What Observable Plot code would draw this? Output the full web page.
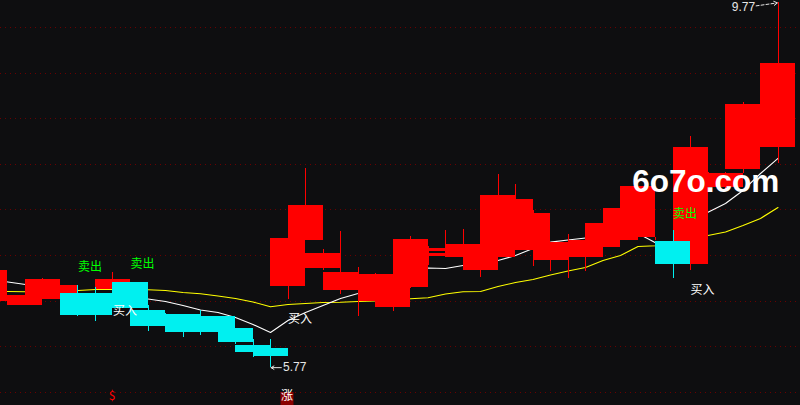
<!DOCTYPE html>
<html><head><meta charset="utf-8">
<script src="https://cdn.jsdelivr.net/npm/d3@7"></script>
<script src="https://cdn.jsdelivr.net/npm/@observablehq/plot@0.6"></script>
<style>html,body{margin:0;padding:0;background:#0e0e10;overflow:hidden}</style>
</head><body><div id="chart"></div>
<script>
// candle index (day number)
const idx = d3.range(-1, 45);
const open  = [6.54,6.49,6.45,6.52,6.57,6.58,6.58,6.63,6.70,6.40,6.35,6.35,6.33,6.33,6.20,6.01,5.98,6.66,7.16,6.86,6.62,6.63,6.49,6.43,6.65,7.04,6.99,6.98,6.83,6.98,7.06,7.06,6.95,6.98,6.98,7.09,7.16,7.20,7.20,7.15,6.90,7.76,7.74,7.94,8.21,8.18];
const high  = [6.85,6.56,6.56,6.75,6.67,6.67,6.65,6.81,6.70,6.45,6.36,6.35,6.40,6.33,6.20,6.08,6.08,7.21,7.95,7.07,7.26,6.87,6.80,6.70,7.21,7.10,7.27,7.29,6.98,7.89,7.78,7.49,7.14,7.23,7.17,7.36,7.66,7.76,7.20,7.27,8.30,7.91,7.91,8.68,8.66,9.77];
const low   = [6.52,6.48,6.45,6.52,6.57,6.33,6.28,6.60,6.40,6.17,6.21,6.10,6.12,6.18,6.02,5.88,5.77,6.52,7.16,6.84,6.57,6.33,6.48,6.39,6.64,6.89,6.98,6.98,6.76,6.98,7.05,6.88,6.82,6.75,6.82,7.09,7.16,7.20,7.16,6.75,6.83,7.75,7.70,7.90,8.20,8.01];
const close = [6.83,6.55,6.56,6.74,6.67,6.34,6.34,6.74,6.42,6.22,6.22,6.15,6.15,6.18,6.05,5.94,5.89,7.19,7.55,7.02,6.81,6.77,6.79,6.69,7.18,7.08,7.02,7.12,6.98,7.66,7.61,7.46,7.13,7.14,7.16,7.35,7.52,7.76,7.20,6.90,8.18,7.90,7.90,8.66,8.65,9.11];
// moving averages (white short, yellow long)
const maShort = [6.737,6.709,6.682,6.616,6.583,6.561,6.550,6.539,6.529,6.523,6.496,6.452,6.402,6.375,6.320,6.243,6.156,6.287,6.375,6.452,6.529,6.583,6.671,6.759,6.836,6.863,6.857,6.890,6.912,6.945,7.000,7.077,7.146,7.170,7.192,7.208,7.230,7.241,7.140,7.100,7.362,7.475,7.570,7.713,7.899,8.064];
const maLong  = [6.611,6.605,6.602,6.605,6.611,6.616,6.627,6.627,6.627,6.624,6.616,6.594,6.580,6.556,6.529,6.490,6.437,6.463,6.474,6.485,6.488,6.496,6.501,6.512,6.525,6.536,6.578,6.602,6.605,6.660,6.704,6.737,6.786,6.830,6.868,6.945,7.000,7.099,7.106,7.154,7.192,7.219,7.258,7.329,7.406,7.526];
// price grid
const gridPrices = [5.5,6,6.5,7,7.5,8,8.5,9,9.5];
// signals
const sellIdx = [4,7,38];
const sellPrice = [6.874,6.901,7.450];
const buyIdx = [6,16,39];
const buyPrice = [6.386,6.304,6.622];
const iconIdx = [6,16];
const iconText = ["$","涨"];
const watermarkText = "6o7o.com";
const watermarkAt = {i: 35.67, p: 7.803};

const candles = idx.map((i,k)=>({i, open:open[k], high:high[k], low:low[k], close:close[k]}));
const up = candles.filter(d=>d.close>=d.open);
const down = candles.filter(d=>d.close<d.open);
const maRows = idx.map((i,k)=>({i, s:maShort[k], l:maLong[k]}));
const sells = sellIdx.map((i,k)=>({i, p:sellPrice[k]}));
const buys = buyIdx.map((i,k)=>({i, p:buyPrice[k]}));
const icons = iconIdx.map((i,k)=>({i, t:iconText[k]}));
const hiC = candles.reduce((a,b)=>b.high>a.high?b:a);
const loC = candles.reduce((a,b)=>b.low<a.low?b:a);
const hi = {i:hiC.i, p:hiC.high};
const lo = {i:loC.i, p:loC.low};
const fmt = d3.format(".2f");

const RED = "#ff0000", CYAN = "#00f0f0";
const CJK = "'Noto Sans CJK SC', sans-serif";

const chart = Plot.plot({
  width: 800, height: 405,
  marginTop: 0, marginRight: 0, marginBottom: 0, marginLeft: 0,
  x: {type: "linear", domain: [-0.428571, 45.285714], axis: null},
  y: {type: "linear", domain: [5.355, 9.796], axis: null},
  style: {background: "#0e0e10"},
  marks: [
    Plot.ruleY(gridPrices, {stroke: "#6a0000", strokeDasharray: "1,4", strokeWidth: 1, shapeRendering: "crispEdges"}),
    Plot.line(maRows, {x: "i", y: "l", stroke: "#ffff00", strokeWidth: 1.1}),
    Plot.line(maRows, {x: "i", y: "s", stroke: "#ffffff", strokeWidth: 1.1}),
    Plot.ruleX(up, {x: "i", y1: "low", y2: "high", stroke: RED, strokeWidth: 1, shapeRendering: "crispEdges"}),
    Plot.rect(up, {x1: d=>d.i-1, x2: d=>d.i+1, y1: "open", y2: "close", fill: RED, shapeRendering: "crispEdges"}),
    Plot.ruleX(down, {x: "i", y1: "low", y2: "high", stroke: CYAN, strokeWidth: 1, shapeRendering: "crispEdges"}),
    Plot.rect(down, {x1: d=>d.i-1, x2: d=>d.i+1, y1: "open", y2: "close", fill: CYAN, shapeRendering: "crispEdges"}),
    Plot.text(sells, {x: "i", y: "p", text: ()=>"卖出", fill: "#00ff00", fontSize: 12, fontFamily: CJK, textAnchor: "start"}),
    Plot.text(buys, {x: "i", y: "p", text: ()=>"买入", fill: "#ffffff", fontSize: 12, fontFamily: CJK, textAnchor: "start"}),
    Plot.arrow([hi], {x1: d=>d.i-1.25, y1: d=>d.p-0.033, x2: d=>d.i-0.03, y2: d=>d.p, stroke: "#e6e6e6", strokeWidth: 1, headLength: 6, strokeDasharray: "3,2"}),
    Plot.text([hi], {x: d=>d.i-1.31, y: d=>d.p-0.051, text: d=>fmt(d.p), fill: "#e6e6e6", fontSize: 12, fontFamily: "'Liberation Sans', sans-serif", textAnchor: "end"}),
    Plot.arrow([lo], {x1: d=>d.i+0.62, y1: "p", x2: d=>d.i+0.03, y2: "p", stroke: "#e6e6e6", strokeWidth: 1, headLength: 5}),
    Plot.text([lo], {x: d=>d.i+0.72, y: d=>d.p+0.004, text: d=>fmt(d.p), fill: "#e6e6e6", fontSize: 12, fontFamily: "'Liberation Sans', sans-serif", textAnchor: "start"}),
    Plot.dot(icons.filter(d=>d.t!=="$"), {x: "i", frameAnchor: "bottom", dy: -7, dx: -1, symbol: "square", r: 7.3, fill: "#8b0000", stroke: "none"}),
    Plot.text(icons, {x: "i", frameAnchor: "bottom", dy: -6, dx: -1, text: "t", fill: d=>d.t==="$" ? RED : "#ffffff", fontWeight: d=>d.t==="$" ? "bold" : "normal", fontSize: 12, fontFamily: CJK}),
    Plot.text([watermarkAt], {x: "i", y: "p", text: ()=>watermarkText, fill: "#ffffff", fontSize: 31.5, fontWeight: "bold", fontFamily: "'Liberation Sans', sans-serif", textAnchor: "start"})
  ]
});
document.getElementById("chart").appendChild(chart);
</script>
</body></html>
